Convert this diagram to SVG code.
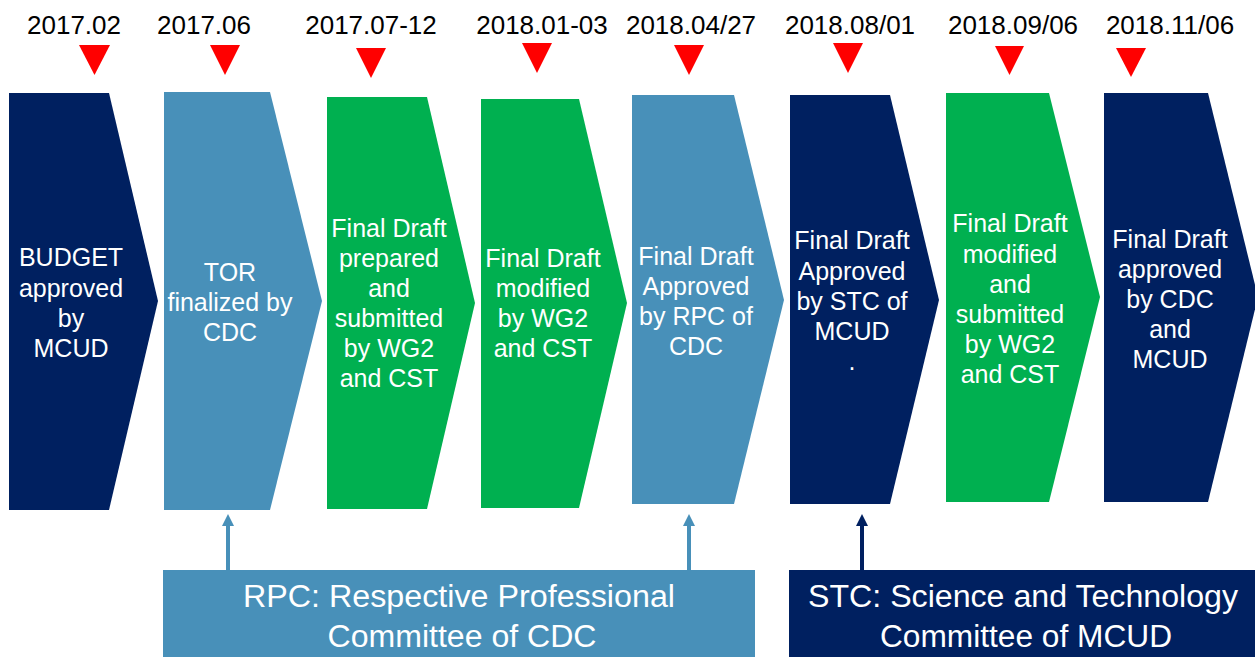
<svg xmlns="http://www.w3.org/2000/svg" width="1255" height="657" viewBox="0 0 1255 657">
<style>
.navy{fill:#002060}
.blue{fill:#4890B9}
.green{fill:#00B050}
.tri{fill:#FF0000}
.date{font-family:"Liberation Sans",Arial,sans-serif;font-size:26px;fill:#000;text-anchor:middle}
.lbl{font-family:"Liberation Sans",Arial,sans-serif;font-size:25px;fill:#fff;text-anchor:middle}
.big{font-family:"Liberation Sans",Arial,sans-serif;font-size:31px;fill:#fff;text-anchor:middle}
</style>
<rect width="1255" height="657" fill="#fff"/>

<g id="dates">
<text class="date" x="74" y="34">2017.02</text>
<text class="date" x="204" y="34">2017.06</text>
<text class="date" x="371" y="34">2017.07-12</text>
<text class="date" x="542" y="34">2018.01-03</text>
<text class="date" x="691" y="34">2018.04/27</text>
<text class="date" x="850" y="34">2018.08/01</text>
<text class="date" x="1013" y="34">2018.09/06</text>
<text class="date" x="1170" y="34">2018.11/06</text>
</g>

<g id="markers">
<polygon class="tri" points="79,45 110,45 94.5,75"/>
<polygon class="tri" points="210,45 240,45 225,75"/>
<polygon class="tri" points="356,48 386,48 371,78"/>
<polygon class="tri" points="522,43 552,43 537,73"/>
<polygon class="tri" points="674,45 704,45 689,75"/>
<polygon class="tri" points="833,43 863,43 848,73"/>
<polygon class="tri" points="995,46 1024,46 1009.5,75"/>
<polygon class="tri" points="1116,48 1146,48 1131,77"/>
</g>

<g id="step1">
<polygon class="navy" points="9,93 109,93 158,301 109,510 9,510"/>
<text class="lbl" x="71" y="266">BUDGET</text>
<text class="lbl" x="71" y="297">approved</text>
<text class="lbl" x="71" y="327">by</text>
<text class="lbl" x="71" y="357">MCUD</text>
</g>

<g id="step2">
<polygon class="blue" points="164,92 270,92 322,301 270,510 164,510"/>
<text class="lbl" x="230" y="281">TOR</text>
<text class="lbl" x="230" y="311">finalized by</text>
<text class="lbl" x="230" y="341">CDC</text>
</g>

<g id="step3">
<polygon class="green" points="327,97 427,97 475,303 427,509 327,509"/>
<text class="lbl" x="389" y="237">Final Draft</text>
<text class="lbl" x="389" y="267">prepared</text>
<text class="lbl" x="389" y="297">and</text>
<text class="lbl" x="389" y="327">submitted</text>
<text class="lbl" x="389" y="357">by WG2</text>
<text class="lbl" x="389" y="387">and CST</text>
</g>

<g id="step4">
<polygon class="green" points="481,99 579,99 627,303 579,508 481,508"/>
<text class="lbl" x="543" y="267">Final Draft</text>
<text class="lbl" x="543" y="297">modified</text>
<text class="lbl" x="543" y="327">by WG2</text>
<text class="lbl" x="543" y="357">and CST</text>
</g>

<g id="step5">
<polygon class="blue" points="632,95 734,95 784,300 734,504 632,504"/>
<text class="lbl" x="696" y="265">Final Draft</text>
<text class="lbl" x="696" y="295">Approved</text>
<text class="lbl" x="696" y="325">by RPC of</text>
<text class="lbl" x="696" y="355">CDC</text>
</g>

<g id="step6">
<polygon class="navy" points="790,95 890,95 939,300 890,504 790,504"/>
<text class="lbl" x="852" y="249">Final Draft</text>
<text class="lbl" x="852" y="280">Approved</text>
<text class="lbl" x="852" y="310">by STC of</text>
<text class="lbl" x="852" y="340">MCUD</text>
<text class="lbl" x="852" y="370">.</text>
</g>

<g id="step7">
<polygon class="green" points="946,93 1049,93 1100,297 1049,502 946,502"/>
<text class="lbl" x="1010" y="232">Final Draft</text>
<text class="lbl" x="1010" y="263">modified</text>
<text class="lbl" x="1010" y="293">and</text>
<text class="lbl" x="1010" y="323">submitted</text>
<text class="lbl" x="1010" y="353">by WG2</text>
<text class="lbl" x="1010" y="383">and CST</text>
</g>

<g id="step8">
<polygon class="navy" points="1104,93 1208,93 1258,297 1208,502 1104,502"/>
<text class="lbl" x="1170" y="248">Final Draft</text>
<text class="lbl" x="1170" y="278">approved</text>
<text class="lbl" x="1170" y="308">by CDC</text>
<text class="lbl" x="1170" y="338">and</text>
<text class="lbl" x="1170" y="368">MCUD</text>
</g>

<g id="connectors">
<line x1="228" y1="570" x2="228" y2="524" stroke="#4890B9" stroke-width="4"/>
<polygon points="222,526 228,514 234,526" fill="#4890B9"/>
<line x1="689" y1="570" x2="689" y2="524" stroke="#4890B9" stroke-width="4"/>
<polygon points="683,526 689,514 695,526" fill="#4890B9"/>
<line x1="862" y1="570" x2="862" y2="524" stroke="#002060" stroke-width="4"/>
<polygon points="856,526 862,514 868,526" fill="#002060"/>
</g>

<g id="rpc">
<rect class="blue" x="163" y="570" width="592" height="87"/>
<text class="big" x="459" y="607" textLength="432" lengthAdjust="spacingAndGlyphs">RPC: Respective Professional</text>
<text class="big" x="462" y="647" textLength="269" lengthAdjust="spacingAndGlyphs">Committee of CDC</text>
</g>

<g id="stc">
<rect class="navy" x="789" y="570" width="466" height="87"/>
<text class="big" x="1023" y="607" textLength="430" lengthAdjust="spacingAndGlyphs">STC: Science and Technology</text>
<text class="big" x="1026" y="647" textLength="292" lengthAdjust="spacingAndGlyphs">Committee of MCUD</text>
</g>
</svg>
